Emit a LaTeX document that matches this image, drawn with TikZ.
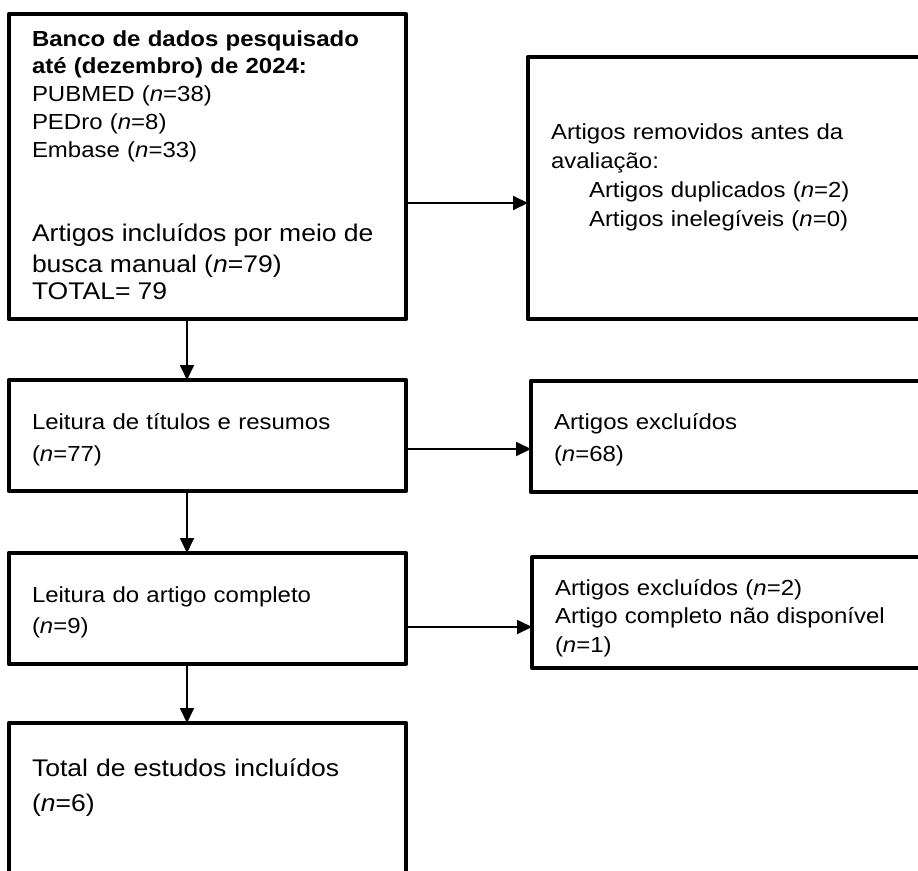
\documentclass[tikz,border=0pt]{standalone}
\usepackage{fontspec}
\setmainfont[FakeStretch=1.1]{Liberation Sans}
\usetikzlibrary{positioning,arrows.meta}

\tikzset{
  caixa/.style={draw, line width=4.8pt, line join=round, anchor=north west,
    outer sep=0pt, inner xsep=23pt, inner ysep=0pt, align=left, text height=0pt},
  seta/.style={line width=1.8pt, -{Triangle[length=15pt,width=14pt]}},
}

\begin{document}
\begin{tikzpicture}[x=1pt, y=-1pt]
  %% Canvas
  \fill[white] (0,0) rectangle (918,870);
  \useasboundingbox (0,0) rectangle (918,870);

  %% Left column
  \node[caixa, minimum width=397pt, minimum height=305pt, text width=351pt,
    text depth=241pt, font=\fontsize{21.8}{27.75}\selectfont] (banco) at (9,14)
    {\textbf{Banco de dados pesquisado}\\ \textbf{até (dezembro) de 2024:}\\
     PUBMED (\textit{n}=38)\\ PEDro (\textit{n}=8)\\ Embase (\textit{n}=33)\par
     \vspace{54pt}\fontsize{24.1}{30.5}\selectfont
     Artigos incluídos por meio de\\ busca manual (\textit{n}=79)\\ TOTAL= 79};
  \node[caixa, minimum width=397pt, minimum height=111pt, text width=351pt,
    text depth=13pt, font=\fontsize{21.8}{32}\selectfont] (titulos) at (9,380)
    {Leitura de títulos e resumos\\ (\textit{n}=77)};
  \node[caixa, minimum width=397pt, minimum height=111pt, text width=351pt,
    text depth=13pt, font=\fontsize{21.8}{31}\selectfont] (completo) at (9,553)
    {Leitura do artigo completo\\ (\textit{n}=9)};
  \node[caixa, minimum width=397pt, minimum height=177pt, text width=351pt,
    text depth=71pt, font=\fontsize{24.1}{35}\selectfont] (total) at (9,723)
    {Total de estudos incluídos\\ (\textit{n}=6)};

  %% Right column
  \node[caixa, minimum width=402pt, minimum height=262pt, text width=356pt,
    text depth=98pt, font=\fontsize{21.8}{29.3}\selectfont] (removidos) at (528,57)
    {Artigos removidos antes da\\ avaliação:\\
     \hspace*{38pt}Artigos duplicados (\textit{n}=2)\\
     \hspace*{38pt}Artigos inelegíveis (\textit{n}=0)};
  \node[caixa, minimum width=399pt, minimum height=111pt, text width=353pt,
    text depth=15pt, font=\fontsize{21.8}{32}\selectfont] (excluidos) at (531,381)
    {Artigos excluídos\\ (\textit{n}=68)};
  \node[caixa, minimum width=398pt, minimum height=111pt, text width=352pt,
    text depth=35pt, font=\fontsize{21.8}{28.5}\selectfont] (naodisp) at (532,557)
    {Artigos excluídos (\textit{n}=2)\\ Artigo completo não disponível\\ (\textit{n}=1)};

  %% Connectors
  \draw[seta] ([xshift=-20.5pt]banco.south) -- ([xshift=-20.5pt]titulos.north);
  \draw[seta] ([xshift=-20.5pt]titulos.south) -- ([xshift=-20.5pt]completo.north);
  \draw[seta] ([xshift=-20.5pt]completo.south) -- ([xshift=-20.5pt]total.north);
  \draw[seta] ([yshift=-36.5pt]banco.east) -- ([yshift=-36.5pt]banco.east -| removidos.west);
  \draw[seta] ([yshift=-13.5pt]titulos.east) -- ([yshift=-13.5pt]titulos.east -| excluidos.west);
  \draw[seta] ([yshift=-18.5pt]completo.east) -- ([yshift=-18.5pt]completo.east -| naodisp.west);
\end{tikzpicture}
\end{document}
